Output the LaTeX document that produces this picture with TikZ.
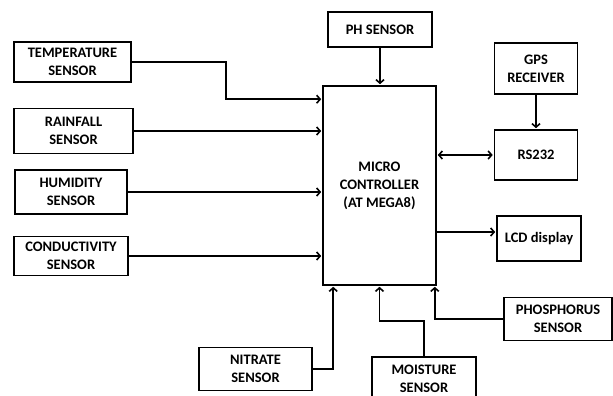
\documentclass[tikz,border=0pt]{standalone}
\usepackage{fontspec}
\setmainfont{Carlito}
\usetikzlibrary{arrows.meta}
\begin{document}
\begin{tikzpicture}[x=1pt,y=-1pt,
  blk/.style={draw,line width=1.6pt,inner sep=0pt,align=center,
    font=\fontsize{14.5pt}{18pt}\selectfont\bfseries},
  arr/.style={line width=1.6pt,shorten >=1pt,-{Straight Barb[length=3.5pt,width=8pt]}},
  barr/.style={line width=1.6pt,shorten >=1pt,shorten <=1pt,{Straight Barb[length=3.5pt,width=8pt]}-{Straight Barb[length=3.5pt,width=8pt]}}]
\clip (0,0) rectangle (613,396);
\node[blk,minimum width=117pt,minimum height=40pt] (temp) at (72.5,62) {TEMPERATURE\\SENSOR};
\node[blk,minimum width=119pt,minimum height=45pt] (rain) at (73.5,131) {RAINFALL\\SENSOR};
\node[blk,minimum width=112pt,minimum height=44pt] (hum) at (71,192) {HUMIDITY\\SENSOR};
\node[blk,minimum width=114pt,minimum height=39pt] (cond) at (71,256) {CONDUCTIVITY\\SENSOR};
\node[blk,minimum width=113pt,minimum height=43pt] (nit) at (255.5,369) {NITRATE\\SENSOR};
\node[blk,minimum width=113pt,minimum height=199pt] (mc) at (379.5,185.5) {MICRO\\CONTROLLER\\(AT MEGA8)};
\node[blk,minimum width=104pt,minimum height=35pt] (ph) at (380,29.5) {PH SENSOR};
\node[blk,minimum width=83pt,minimum height=51pt] (gps) at (536,68.5) {GPS\\RECEIVER};
\node[blk,minimum width=83pt,minimum height=50pt] (rs) at (536,155) {RS232};
\node[blk,minimum width=84pt,minimum height=45pt] (lcd) at (539,238.5) {LCD display};
\node[blk,minimum width=108pt,minimum height=43pt] (phos) at (558,319) {PHOSPHORUS\\SENSOR};
\node[blk,minimum width=104pt,minimum height=44pt] (moist) at (424,379) {MOISTURE\\SENSOR};
\draw[arr] (temp.east) -- ++(94,0) |- ([yshift=-14pt]mc.north west);
\draw[arr] (rain.east) -- (rain.east -| mc.west);
\draw[arr] (hum.east) -- (hum.east -| mc.west);
\draw[arr] (cond.east) -- (cond.east -| mc.west);
\draw[arr] (ph.south) -- (ph.south |- mc.north);
\draw[arr] (gps.south) -- (rs.north);
\draw[barr] (rs.west -| mc.east) -- (rs.west);
\draw[arr] ([yshift=6.5pt]lcd.west -| mc.east) -- ([yshift=6.5pt]lcd.west);
\draw[arr] (nit.east) -| ([xshift=11pt]mc.south west);
\draw[arr] (moist.north) -- ++(0,-35) -| (mc.south);
\draw[arr] (phos.west) -| ([xshift=-2pt]mc.south east);
\end{tikzpicture}
\end{document}
